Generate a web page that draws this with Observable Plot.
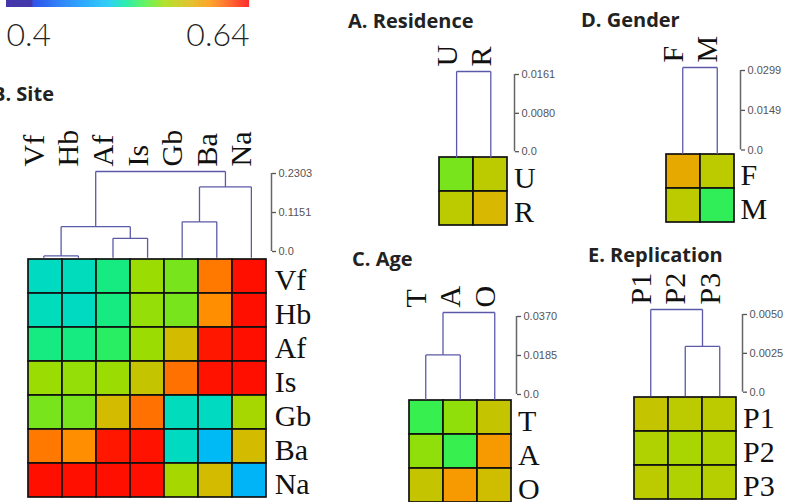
<!DOCTYPE html>
<html><head><meta charset="utf-8">
<script src="https://cdn.jsdelivr.net/npm/d3@7"></script>
<script src="https://cdn.jsdelivr.net/npm/@observablehq/plot@0.6"></script>
<style>
body{margin:0;background:#fff}
#fig{position:relative;width:792px;height:502px;overflow:hidden;background:#fff}
#fig > *{position:absolute}
.title{font-family:"Open Sans",sans-serif;font-weight:700;font-size:20px;line-height:20px;color:#222;white-space:nowrap}
</style></head><body><div id="fig"></div>
<script>
// ---- colour bar ----
const colorbarValues = [0.4, 0.4257, 0.4264, 0.472, 0.5008, 0.5176, 0.5368, 0.556, 0.58, 0.6016, 0.6208, 0.64];
const colorbarColors = ["#1a0a96", "#1a0a96", "#0030e8", "#0090ff", "#00c4f4", "#00e8a0", "#40f040", "#a0dc00", "#d8b800", "#ff9000", "#ff4800", "#ff0000"];
const colorbarLabels = ["0.4", "0.64"];

// ---- B. Site ----
const siteNames = ["Vf", "Hb", "Af", "Is", "Gb", "Ba", "Na"];
const siteValues = [
  [0.511, 0.512, 0.524, 0.555, 0.548, 0.608, 0.636],
  [0.512, 0.511, 0.524, 0.554, 0.548, 0.602, 0.636],
  [0.524, 0.524, 0.530, 0.555, 0.578, 0.634, 0.636],
  [0.555, 0.554, 0.555, 0.572, 0.610, 0.635, 0.636],
  [0.548, 0.548, 0.578, 0.610, 0.512, 0.511, 0.559],
  [0.608, 0.602, 0.634, 0.635, 0.511, 0.495, 0.578],
  [0.636, 0.636, 0.636, 0.636, 0.559, 0.578, 0.492]
];
const siteMerges = [["Vf", "Hb", 0.005], ["Af", "Is", 0.052], ["Gb", "Ba", 0.096], [0, 1, 0.083], [2, "Na", 0.189], [3, 4, 0.2303]];
const siteAxisLabels = ["0.0", "0.1151", "0.2303"];

// ---- A. Residence ----
const resNames = ["U", "R"];
const resValues = [[0.548, 0.568], [0.568, 0.580]];
const resMerges = [["U", "R", 0.0161]];
const resAxisLabels = ["0.0", "0.0080", "0.0161"];

// ---- D. Gender ----
const genNames = ["F", "M"];
const genValues = [[0.588, 0.568], [0.568, 0.532]];
const genMerges = [["F", "M", 0.0299]];
const genAxisLabels = ["0.0", "0.0149", "0.0299"];

// ---- C. Age ----
const ageNames = ["T", "A", "O"];
const ageValues = [[0.534, 0.553, 0.572], [0.553, 0.534, 0.597], [0.572, 0.597, 0.576]];
const ageMerges = [["T", "A", 0.019], [0, "O", 0.0370]];
const ageAxisLabels = ["0.0", "0.0185", "0.0370"];

// ---- E. Replication ----
const repNames = ["P1", "P2", "P3"];
const repValues = [[0.572, 0.568, 0.568], [0.563, 0.560, 0.563], [0.568, 0.563, 0.565]];
const repMerges = [["P2", "P3", 0.00287], ["P1", 0, 0.0050]];
const repAxisLabels = ["0.0", "0.0025", "0.0050"];

// ---- layout (pixels) ----
const layouts = {
  site: {left: 25.7, top: 257.3, cell: 34.6, root: 171, axisX: 270.7, axisTop: 172.7, axisBottom: 250.7, titleX: -8, titleTop: 84},
  res:  {left: 439, top: 157, cell: 34.2, root: 70.7, axisX: 514, axisTop: 73.5, axisBottom: 150.7, titleX: 348, titleTop: 10.5},
  gen:  {left: 665.3, top: 153.3, cell: 34.5, root: 66.7, axisX: 740, axisTop: 70, axisBottom: 149.5, titleX: 581, titleTop: 10.2},
  age:  {left: 408.3, top: 399, cell: 34.5, root: 311.7, axisX: 515.7, axisTop: 316, axisBottom: 394, titleX: 352, titleTop: 249},
  rep:  {left: 633.3, top: 396, cell: 34.5, root: 309.3, axisX: 741.7, axisTop: 314, axisBottom: 391.7, titleX: 588, titleTop: 245}
};

const fig = document.getElementById("fig");
const colorScale = {type: "linear", domain: colorbarValues, range: colorbarColors, interpolate: "rgb"};
const serif = "'Liberation Serif', 'Times New Roman', serif";
const baseStyle = {background: "transparent", overflow: "visible", maxWidth: "none"};

function place(el, left, top) {
  el.style.left = left + "px";
  el.style.top = top + "px";
  fig.append(el);
}

function drawPanel(names, values, merges, axisLabels, title, L) {
  const n = names.length, size = n * L.cell;
  const maxH = merges[merges.length - 1][2];

  // heatmap
  const cells = values.flatMap((row, i) => row.map((v, j) => ({row: names[i], col: names[j], v})));
  const heat = Plot.plot({
    width: size + 60, height: size,
    marginLeft: 0, marginTop: 0, marginBottom: 0, marginRight: 60,
    style: baseStyle,
    x: {type: "band", domain: names, padding: 0, axis: null},
    y: {type: "band", domain: names, padding: 0, axis: null},
    color: colorScale,
    marks: [
      Plot.cell(cells, {x: "col", y: "row", fill: "v", stroke: "#111", strokeWidth: 1.7, inset: 0}),
      Plot.text(names, {y: d => d, text: d => d, frameAnchor: "right", textAnchor: "start", dx: 6, dy: 4, fontSize: 30, fontFamily: serif, fill: "#111"})
    ]
  });
  place(heat, L.left, L.top);

  // dendrogram
  const leaf = new Map(names.map((d, i) => [d, {x: i + 0.5, h: 0}]));
  const nodes = [], segs = [];
  for (const [a, b, h] of merges) {
    const A = typeof a === "number" ? nodes[a] : leaf.get(a);
    const B = typeof b === "number" ? nodes[b] : leaf.get(b);
    segs.push({x1: A.x, y1: A.h, x2: A.x, y2: h});
    segs.push({x1: B.x, y1: B.h, x2: B.x, y2: h});
    segs.push({x1: A.x, y1: h, x2: B.x, y2: h});
    nodes.push({x: (A.x + B.x) / 2, h});
  }
  const mt = 70;
  const dendro = Plot.plot({
    width: size, height: (L.top - L.root) + mt,
    marginLeft: 0, marginRight: 0, marginBottom: 0, marginTop: mt,
    style: baseStyle,
    x: {domain: [0, n], axis: null},
    y: {domain: [0, maxH], axis: null},
    marks: [
      Plot.link(segs, {x1: "x1", y1: "y1", x2: "x2", y2: "y2", stroke: "#5b5aa8", strokeWidth: 1.3}),
      Plot.text(names, {x: (d, i) => i + 0.5, y: () => maxH, text: d => d, rotate: -90, textAnchor: "start", lineAnchor: "bottom", dy: -5, fontSize: 30, fontFamily: serif, fill: "#111"})
    ]
  });
  place(dendro, L.left, L.root - mt);

  // height axis
  const ticks = axisLabels.map(Number);
  const ax = Plot.plot({
    width: 60, height: (L.axisBottom - L.axisTop) + 20,
    marginTop: 10, marginBottom: 10, marginLeft: 0, marginRight: 58,
    style: {...baseStyle, fontFamily: "'Liberation Sans', Arial, sans-serif", fontSize: "11px", color: "#555"},
    x: {type: "identity", axis: null},
    y: {domain: [0, ticks[ticks.length - 1]]},
    marks: [
      Plot.axisY(ticks, {anchor: "right", tickSize: 4, tickPadding: 3, label: null, strokeWidth: 1.3, tickFormat: d => axisLabels[ticks.indexOf(d)]}),
      Plot.ruleX([2], {y1: 0, y2: ticks[ticks.length - 1], stroke: "#666", strokeWidth: 1.5})
    ]
  });
  place(ax, L.axisX - 2, L.axisTop - 10);

  // title
  const t = document.createElement("div");
  t.className = "title";
  t.textContent = title;
  place(t, L.titleX, L.titleTop);
}

// colour bar
const colorbarSteps = d3.range(colorbarValues[0], colorbarValues[colorbarValues.length - 1], 0.0005);
const bar = Plot.plot({
  width: 260, height: 62,
  marginLeft: 6, marginRight: 11, marginTop: 0, marginBottom: 45,
  style: baseStyle,
  x: {domain: [colorbarValues[0], colorbarValues[colorbarValues.length - 1]], axis: null},
  color: colorScale,
  marks: [
    Plot.rectX(colorbarSteps, {x1: d => d, x2: d => d + 0.0006, fill: d => d}),
    Plot.text([colorbarValues[0]], {x: d => d, text: () => colorbarLabels[0], frameAnchor: "bottom", textAnchor: "start", dy: 38, fontSize: 32, fontWeight: 300, fontFamily: "Lato, 'Open Sans', sans-serif", fill: "#222"}),
    Plot.text([colorbarValues[colorbarValues.length - 1]], {x: d => d, text: () => colorbarLabels[1], frameAnchor: "bottom", textAnchor: "end", dy: 38, fontSize: 32, fontWeight: 300, fontFamily: "Lato, 'Open Sans', sans-serif", fill: "#222"})
  ]
});
place(bar, 0, -10);

drawPanel(siteNames, siteValues, siteMerges, siteAxisLabels, "B. Site", layouts.site);
drawPanel(resNames, resValues, resMerges, resAxisLabels, "A. Residence", layouts.res);
drawPanel(genNames, genValues, genMerges, genAxisLabels, "D. Gender", layouts.gen);
drawPanel(ageNames, ageValues, ageMerges, ageAxisLabels, "C. Age", layouts.age);
drawPanel(repNames, repValues, repMerges, repAxisLabels, "E. Replication", layouts.rep);
</script></body></html>
